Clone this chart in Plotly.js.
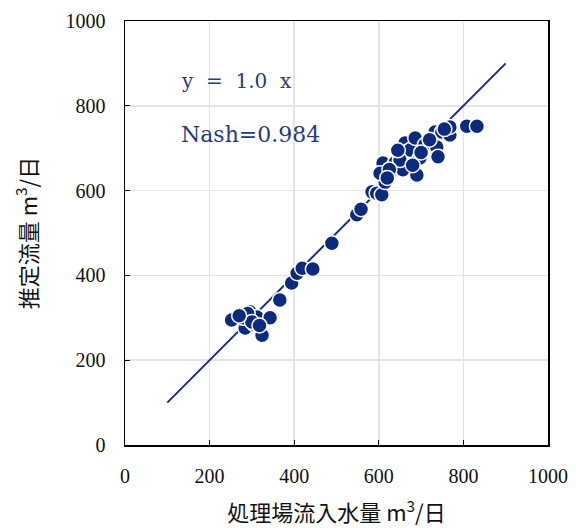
<!DOCTYPE html>
<html>
<head>
<meta charset="utf-8">
<script src="https://cdn.plot.ly/plotly-3.0.1.min.js"></script>
<style>html,body{margin:0;padding:0;background:#fff;}</style>
</head>
<body>
<div id="chart" style="width:576px;height:528px;"></div>
<script>
// Observed inflow (x) and estimated flow (y), m3/day
const inflow = [252, 284, 295, 312, 324, 343, 305, 279, 290, 300, 270, 318,
  366, 394, 407, 419, 444, 489, 548, 558,
  584, 595, 607, 610, 615, 603, 638, 657, 690, 662, 674, 686, 697, 709,
  737, 740, 733, 749, 768, 768, 808, 832, 650, 680, 625, 720, 700, 755, 645, 620];
const estimated = [295, 276, 314, 302, 259, 300, 285, 300, 310, 290, 305, 282,
  342, 382, 405, 417, 415, 476, 543, 556,
  597, 594, 590, 665, 620, 641, 665, 649, 637, 712, 696, 724, 677, 708,
  703, 680, 738, 738, 731, 750, 752, 752, 672, 660, 650, 720, 690, 745, 695, 630];
const fitX = [100, 900];
const fitY = [100, 900];
const axisTicks = [0, 200, 400, 600, 800, 1000];

const navy = '#0d2b7e';
const data = [
  {x: fitX, y: fitY, mode: 'lines', type: 'scatter',
   line: {color: '#1a2f78', width: 2}, hoverinfo: 'skip'},
  {x: inflow, y: estimated, mode: 'markers', type: 'scatter',
   marker: {color: navy, size: 15, line: {color: '#ffffff', width: 1.5}}}
];
const serif = '"Liberation Serif", "DejaVu Serif", serif';
const annFont = '"DejaVu Serif", serif';
const axisCommon = {
  range: [0, 1000], tickvals: axisTicks, ticktext: axisTicks.map(String),
  showgrid: true, gridcolor: '#e3e3e3', gridwidth: 1.5,
  zeroline: false, showline: true, linecolor: '#000', linewidth: 1.5, mirror: true,
  ticks: 'inside', ticklen: 5, tickcolor: '#000',
  tickfont: {family: serif, size: 20, color: '#111'}
};
const layout = {
  width: 576, height: 528, showlegend: false,
  paper_bgcolor: '#fff', plot_bgcolor: '#fff',
  margin: {l: 125, r: 28, t: 21, b: 83},
  xaxis: Object.assign({}, axisCommon, {
    ticklabelstandoff: 12,
    title: {text: '処理場流入水量 m<sup>3</sup>/日', standoff: 20,
      font: {family: '"Noto Sans CJK JP", sans-serif', size: 22, color: '#111'}}
  }),
  yaxis: Object.assign({}, axisCommon, {
    ticklabelstandoff: 14,
    title: {text: '推定流量 m<sup>3</sup>/日', standoff: 22,
      font: {family: '"Noto Sans CJK JP", sans-serif', size: 22, color: '#111'}}
  }),
  annotations: [
    {x: 128, y: 858, xref: 'x', yref: 'y', xanchor: 'left', yanchor: 'middle',
     text: 'y\u00a0\u00a0=\u00a0\u00a01.0\u00a0\u00a0x', showarrow: false,
     font: {family: annFont, size: 20, color: '#263d7d'}},
    {x: 128, y: 732, xref: 'x', yref: 'y', xanchor: 'left', yanchor: 'middle',
     text: 'Nash=0.984', showarrow: false,
     font: {family: annFont, size: 22, color: '#263d7d'}}
  ]
};
Plotly.newPlot('chart', data, layout, {displayModeBar: false, staticPlot: true});
</script>
</body>
</html>
